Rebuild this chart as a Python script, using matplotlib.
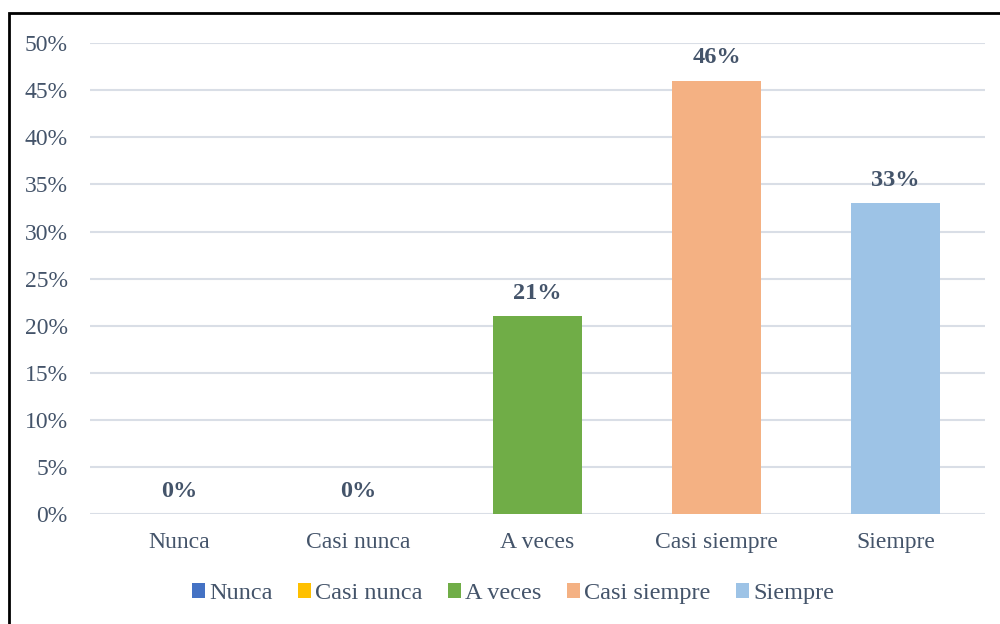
import matplotlib.pyplot as plt
from matplotlib.patches import Rectangle, Patch

categorias = ["Nunca", "Casi nunca", "A veces", "Casi siempre", "Siempre"]
valores = [0, 0, 21, 46, 33]
colores = ["#4472C4", "#FFC000", "#70AD47", "#F4B183", "#9DC3E6"]
ticks_y = [0, 5, 10, 15, 20, 25, 30, 35, 40, 45, 50]

texto = "#44546A"
plt.rcParams['font.family'] = ['Liberation Serif', 'DejaVu Serif']

fig = plt.figure(figsize=(10, 6.24), dpi=100)
ax = fig.add_axes([0.09, 0.176, 0.895, 0.755])

x = list(range(len(categorias)))
ax.bar(x, valores, width=0.5, color=colores, zorder=3)

for xi, v in zip(x, valores):
    ax.text(xi, v + 1.3, f"{v}%", ha='center', va='bottom', fontsize=17.5,
            fontweight='bold', color=texto)

ax.set_xlim(-0.5, len(categorias) - 0.5)
ax.set_ylim(0, 50)
ax.set_yticks(ticks_y)
ax.set_yticklabels([f"{t}%" for t in ticks_y], fontsize=17, color=texto)
ax.set_xticks(x)
ax.set_xticklabels(categorias, fontsize=17, color=texto)
ax.tick_params(axis='both', length=0)
ax.tick_params(axis='y', pad=16)
ax.tick_params(axis='x', pad=13)
ax.yaxis.grid(True, color="#D9DEE6", linewidth=1.5, zorder=0)
for s in ax.spines.values():
    s.set_visible(False)

handles = [Patch(facecolor=c, edgecolor='none') for c in colores]
leg = fig.legend(handles, categorias, loc='center', bbox_to_anchor=(0.513, 0.049),
                 ncol=5, frameon=False, fontsize=17.5, handlelength=0.55,
                 handleheight=0.55, handletextpad=0.15, columnspacing=1.05)
for t in leg.get_texts():
    t.set_color(texto)

# marco negro alrededor del grafico
fig.patches.append(Rectangle((0.009, -0.05), 1.2, 1.029, transform=fig.transFigure,
                             fill=False, edgecolor='black', linewidth=2))

fig.savefig("out.png", dpi=100)
